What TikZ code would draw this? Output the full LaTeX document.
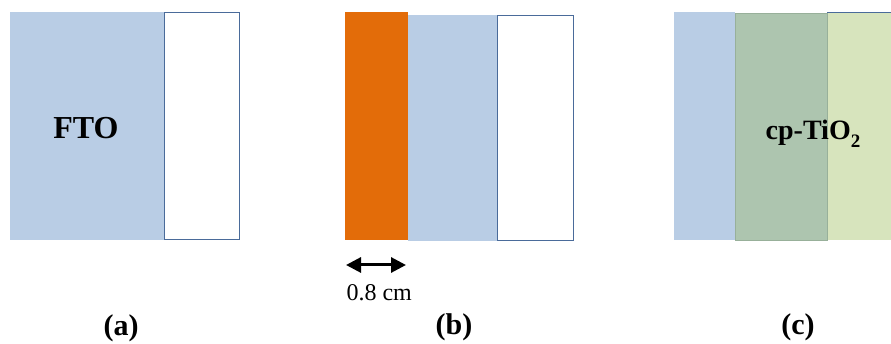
\documentclass[tikz,border=0pt]{standalone}
\usepackage{fontspec}
\setmainfont{Liberation Serif}
\usepackage{tikz}
\usepackage{xcolor}
\usetikzlibrary{arrows.meta}
\definecolor{ftoblue}{HTML}{B9CDE5}
\definecolor{edgeblue}{HTML}{4A6B9A}
\definecolor{tapeorange}{HTML}{E36C09}
\definecolor{tigreen}{HTML}{ADC5AF}
\definecolor{tiedge}{HTML}{98B09A}
\definecolor{lightgreen}{HTML}{D7E4BD}
\tikzset{
  glass/.style={draw=edgeblue, line width=0.9pt, fill=white},
  panel/.style={font=\fontsize{30}{34}\selectfont\bfseries},
}

\begin{document}
\begin{tikzpicture}[x=1pt,y=-1pt]
\useasboundingbox (0,0) rectangle (891,344);
% (a) FTO glass
\draw[glass] (164,12) rectangle (239,239);
\fill[ftoblue] (10,12) rectangle (164,240);
\node[font=\fontsize{32}{36}\selectfont\bfseries] (fto) at (86,128) {FTO};
\node[panel] (la) at (121,328) {(a)};
% (b) masked with tape
\draw[glass] (497,15) rectangle (573,240);
\fill[ftoblue] (408,15) rectangle (497,241);
\fill[tapeorange] (345,12) rectangle (408,240);
\coordinate (tl) at (346,265); \coordinate (tr) at (406,265);
\draw[line width=3pt, {Triangle[length=15pt,width=15pt]}-{Triangle[length=15pt,width=15pt]}] (tl) -- (tr);
\node[font=\fontsize{24}{28}\selectfont, anchor=west] (wd) at (343,293) {0.8 cm};
\node[panel] (lb) at (454,327) {(b)};
% (c) compact layer
\fill[lightgreen] (827,12) rectangle (891,240);
\draw[edgeblue, line width=0.9pt] (827,12) -- (891,12);
\fill[ftoblue] (674,12) rectangle (735,240);
\draw[tiedge, fill=tigreen, line width=0.8pt] (735,13) rectangle (827,240);
\node[font=\fontsize{28}{30}\selectfont\bfseries] (cp) at (813,134) {cp-TiO\raisebox{-0.28em}{\fontsize{19}{20}\selectfont 2}};
\node[panel] (lc) at (798,327) {(c)};
\end{tikzpicture}
\end{document}
